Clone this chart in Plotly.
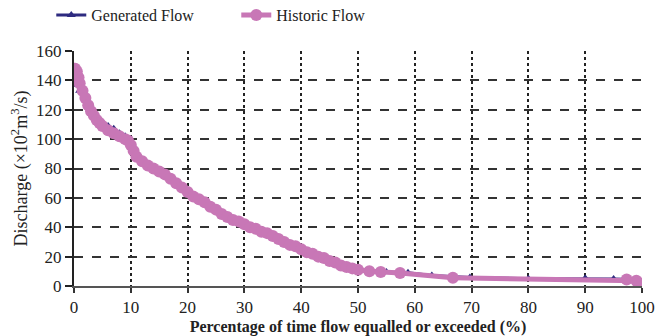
import plotly.graph_objects as go

# Historic flow (exceedance %, discharge x10^2 m3/s)
hist_x = [0.2, 0.5, 0.8, 1.0, 1.5, 2.0, 2.5, 3.0, 3.5, 4.0, 4.5, 5, 6, 7, 8, 9, 9.5, 10, 10.5, 11,
          12, 13, 14, 15, 16, 17, 18, 19, 20, 21, 22, 23, 24, 25, 26, 27, 28, 29, 30, 31,
          32, 33, 34, 35, 36, 37, 38, 39, 40, 41, 42, 43, 44, 45, 46, 47, 48, 49, 50, 52,
          54, 57.4, 66.7, 97.3, 99, 100]
hist_y = [148, 146, 142, 138, 133, 128, 123, 119, 116, 113, 111, 109, 106, 104, 102, 100, 99, 96, 92, 88,
          85, 82, 80, 78, 76, 73, 70, 67, 64, 61, 59, 57, 54, 52, 49, 47, 45, 44, 42, 40,
          39, 37, 36, 34, 32, 30, 28, 27, 25, 23, 22, 20, 19, 17, 16, 14, 13, 12, 11, 10,
          9.6, 8.8, 5.6, 4.4, 3.5, 1.5]

# Generated flow
gen_x = [0, 0.5, 1, 2, 3, 4, 5, 6, 7, 8, 9, 10, 10.5, 11, 12, 13, 14, 15, 16, 17,
         18, 19, 20, 21, 22, 23, 24, 25, 26, 27, 28, 29, 30, 31, 32, 33, 34, 35, 36, 37,
         38, 39, 40, 41, 42, 43, 44, 45, 46, 47, 48, 50, 52, 55, 58.8, 63, 69.7, 80, 90, 95,
         99, 100]
gen_y = [140, 137, 133, 127, 120, 114, 111, 109, 107, 104, 102, 98, 93, 89, 86, 83, 81, 79, 76, 74,
         70, 66, 63, 62, 60, 57, 55, 52, 50, 47, 44, 43, 41, 40, 38, 37, 35, 33, 31, 30,
         29, 27, 25, 23, 21, 20, 18, 16, 15, 14, 12, 11, 10, 9.5, 9, 7.2, 5.8, 5.0, 5.2, 4.8,
         4.5, 2]

x_ticks = [0, 10, 20, 30, 40, 50, 60, 70, 80, 90, 100]
y_ticks = [0, 20, 40, 60, 80, 100, 120, 140, 160]

navy = "#2e2b80"
pink = "#c877b6"
font = "Liberation Serif"

fig = go.Figure()
fig.add_trace(go.Scatter(
    x=gen_x, y=gen_y, mode="lines+markers", name="Generated Flow",
    line=dict(color=navy, width=3),
    marker=dict(symbol="triangle-up", size=8, color=navy),
))
fig.add_trace(go.Scatter(
    x=hist_x, y=hist_y, mode="lines+markers", name="Historic Flow",
    line=dict(color=pink, width=5),
    marker=dict(symbol="circle", size=12, color=pink),
))

fig.update_layout(
    width=666, height=336,
    margin=dict(l=74, r=24, t=51, b=50, autoexpand=False),
    paper_bgcolor="white", plot_bgcolor="white",
    font=dict(family=font, size=15, color="#222"),
    showlegend=True,
    legend=dict(orientation="h", xref="paper", yref="paper",
                x=-0.04, y=1.225, xanchor="left", yanchor="top",
                font=dict(family=font, size=16, color="#222"),
                entrywidth=140, entrywidthmode="pixels",
                traceorder="normal", bgcolor="rgba(0,0,0,0)"),
)
fig.update_xaxes(
    range=[0, 100], tickvals=x_ticks, ticktext=[str(v) for v in x_ticks],
    showgrid=True, gridcolor="#222", griddash="dot", gridwidth=2,
    showline=True, linecolor="#555", linewidth=2,
    ticks="outside", ticklen=5, tickcolor="#333", tickwidth=2,
    zeroline=False, automargin=False,
    tickfont=dict(family=font, size=17, color="#222"),
    title=dict(text="<b>Percentage of time flow equalled or exceeded (%)</b>",
               font=dict(family=font, size=16, color="#222"), standoff=4),
)
fig.update_yaxes(
    range=[0, 160], tickvals=y_ticks, ticktext=[str(v) for v in y_ticks],
    showgrid=True, gridcolor="#333", griddash="dash", gridwidth=1.5,
    showline=True, linecolor="#222", linewidth=2,
    ticks="outside", ticklen=7, tickcolor="#222", tickwidth=2,
    zeroline=False, automargin=False,
    tickfont=dict(family=font, size=17, color="#222"),
    title=dict(text="Discharge (×10<sup>2</sup>m<sup>3</sup>/s)",
               font=dict(family=font, size=18, color="#222"), standoff=4),
)

fig.write_html("out.html")
